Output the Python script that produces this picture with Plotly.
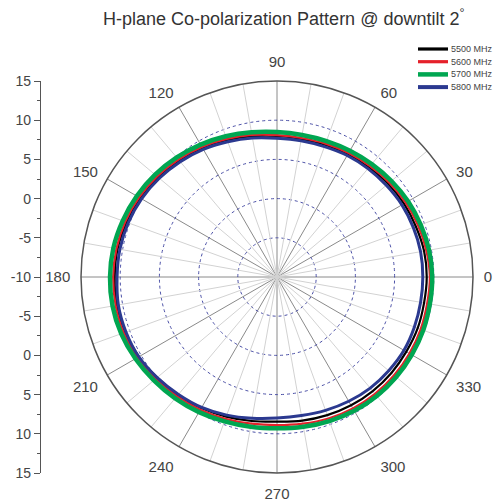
import plotly.graph_objects as go

# ---------------- data ----------------
angles = list(range(0, 360, 10)) + [360]

gain_5500 = [9.1, 9.05, 8.85, 8.7, 8.5, 8.25, 8.1, 7.95, 7.9, 8.0, 8.25, 8.6, 9.0, 9.4, 9.8, 10.15, 10.4, 10.65,
             10.7, 10.75, 10.6, 10.35, 9.95, 9.65, 9.3, 8.95, 8.65, 8.45, 8.6, 8.75, 8.9, 9.0, 9.05, 9.05, 9.1, 9.05, 9.1]
gain_5600 = [9.5, 9.35, 9.15, 8.95, 8.7, 8.45, 8.25, 8.1, 8.0, 8.1, 8.4, 8.75, 9.15, 9.55, 9.95, 10.3, 10.6, 10.8,
             10.9, 10.9, 10.8, 10.5, 10.15, 9.85, 9.55, 9.25, 9.0, 8.9, 9.0, 9.2, 9.35, 9.45, 9.5, 9.5, 9.5, 9.45, 9.5]
gain_5700 = [9.8, 9.7, 9.5, 9.3, 9.05, 8.8, 8.6, 8.45, 8.4, 8.5, 8.75, 9.1, 9.5, 9.9, 10.3, 10.65, 10.95, 11.2,
             11.3, 11.3, 11.15, 10.85, 10.5, 10.2, 9.9, 9.6, 9.4, 9.3, 9.4, 9.55, 9.7, 9.8, 9.85, 9.85, 9.85, 9.8, 9.8]
gain_5800 = [8.6, 8.6, 8.5, 8.4, 8.2, 8.05, 7.9, 7.7, 7.65, 7.7, 8.0, 8.35, 8.8, 9.2, 9.6, 9.95, 10.2, 10.35,
             10.4, 10.55, 10.5, 10.35, 9.95, 9.55, 9.2, 8.75, 8.3, 8.0, 7.95, 8.1, 8.3, 8.5, 8.6, 8.7, 8.65, 8.6, 8.6]

series_names = ["5500 MHz", "5600 MHz", "5700 MHz", "5800 MHz"]
series_values = [gain_5500, gain_5600, gain_5700, gain_5800]
series_colors = ["#000000", "#e5202a", "#00a651", "#2b3990"]
series_widths = [2.2, 2.2, 4.5, 3]

radial_range = [-10, 15]
radial_grid = [-5, 0, 5, 10]
major_angles = list(range(0, 360, 30))
minor_angles = [a for a in range(0, 360, 10) if a % 30 != 0]

left_tick_pos = list(range(-25, 26, 5))
left_tick_text = [str(abs(p) - 10) for p in left_tick_pos]

title_text = "H-plane Co-polarization Pattern @ downtilt 2<sup>°</sup>"

# ---------------- figure ----------------
W, H = 498, 501
cx, cy, R = 277, 277, 196
dom_x = [(cx - R) / W, (cx + R) / W]
dom_y = [(H - cy - R) / H, (H - cy + R) / H]

fig = go.Figure()

for a in minor_angles:
    fig.add_trace(go.Scatterpolar(r=radial_range, theta=[a, a], mode="lines",
                                  line=dict(color="#d2d2d2", width=1),
                                  showlegend=False, hoverinfo="skip"))

for name, vals, col, w in zip(series_names, series_values, series_colors, series_widths):
    fig.add_trace(go.Scatterpolar(r=vals, theta=angles, mode="lines", name=name,
                                  showlegend=False,
                                  line=dict(color=col, width=w, shape="spline")))

# dummy trace for the left linear scale
fig.add_trace(go.Scatter(x=[], y=[], xaxis="x", yaxis="y", showlegend=False))

font_family = "Liberation Sans, Arial, sans-serif"

# manual compact legend
shapes = []
annotations = []
leg_x0, leg_x1, leg_y0, leg_dy = 418, 448, 49, 12.7
for i, (name, col, w) in enumerate(zip(series_names, series_colors, series_widths)):
    yy = 1 - (leg_y0 + i * leg_dy) / H
    shapes.append(dict(type="line", xref="paper", yref="paper",
                       x0=leg_x0 / W, x1=leg_x1 / W, y0=yy, y1=yy,
                       line=dict(color=col, width=min(w + 1, 4.5))))
    annotations.append(dict(text=name, x=(leg_x1 + 1) / W, y=yy, xref="paper", yref="paper",
                            showarrow=False, xanchor="left", yanchor="middle",
                            font=dict(size=9, color="#444")))

annotations.append(dict(text=title_text, x=284 / W, y=1 - 18 / H, xref="paper", yref="paper",
                        showarrow=False, xanchor="center", yanchor="middle",
                        font=dict(size=18, color="#333")))

fig.update_layout(
    width=W, height=H,
    margin=dict(l=0, r=0, t=0, b=0, autoexpand=False),
    paper_bgcolor="white", plot_bgcolor="white",
    font=dict(family=font_family, color="#444"),
    showlegend=False,
    polar=dict(
        domain=dict(x=dom_x, y=dom_y),
        bgcolor="white",
        radialaxis=dict(range=radial_range, tickvals=radial_grid, showticklabels=False,
                        ticks="", showline=False, gridcolor="#4a4fa6", griddash="dot",
                        gridwidth=0.9),
        angularaxis=dict(rotation=0, direction="counterclockwise",
                         tickvals=major_angles,
                         showline=True, linecolor="#555555", linewidth=1.5,
                         gridcolor="#8a8a8a", gridwidth=1.2,
                         ticks="outside", ticklen=7, tickcolor="rgba(0,0,0,0)",
                         tickfont=dict(size=15, color="#444")),
    ),
    xaxis=dict(domain=[0.0, 0.08], visible=False, range=[0, 1]),
    yaxis=dict(domain=dom_y, range=[-25, 25], anchor="free", position=40 / W,
               tickvals=left_tick_pos, ticktext=left_tick_text,
               ticks="outside", ticklen=6, tickcolor="#555", showline=True,
               linecolor="#555", linewidth=1.2, showgrid=False, zeroline=False,
               tickfont=dict(size=14, color="#444"),
               minor=dict(dtick=2.5, ticks="outside", ticklen=3, tickcolor="#555", showgrid=False)),
    shapes=shapes,
    annotations=annotations,
)

fig.write_html("out.html",
               config=dict(displayModeBar=False),
               post_script="document.body.style.margin='0';document.body.style.overflow='hidden';")
